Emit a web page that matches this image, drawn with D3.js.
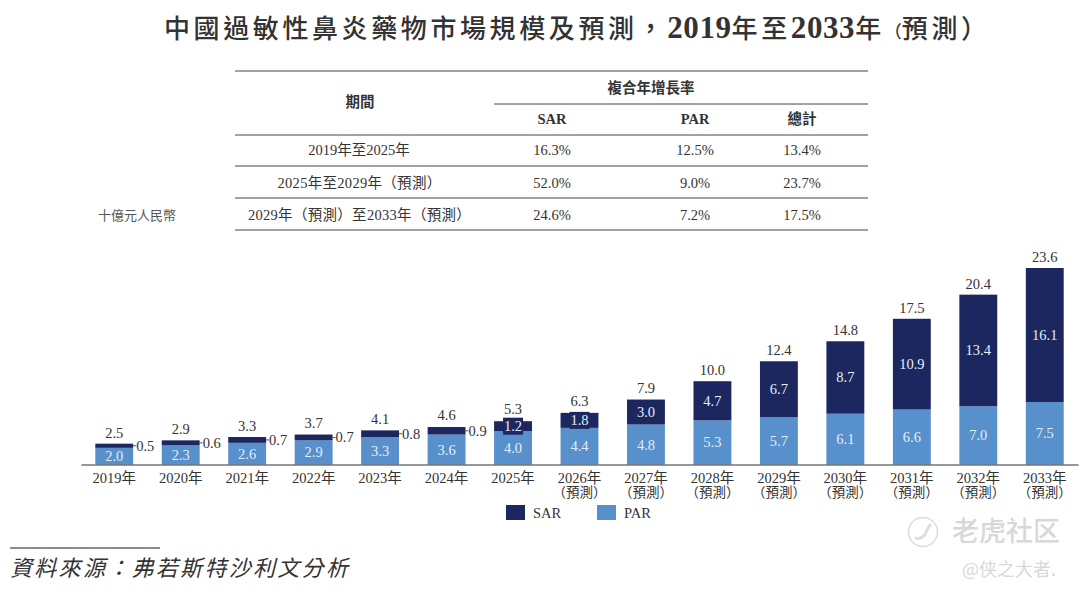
<!DOCTYPE html>
<html>
<head>
<meta charset="utf-8">
<script src="https://cdn.jsdelivr.net/npm/d3@7"></script>
<style>
  body { margin: 0; background: #fff; }
  text { font-family: "Liberation Serif", "Noto Sans CJK TC", serif; fill: #333; }
</style>
</head>
<body>
<svg width="1080" height="594"></svg>
<script>
var years = ["2019年", "2020年", "2021年", "2022年", "2023年", "2024年", "2025年", "2026年", "2027年", "2028年", "2029年", "2030年", "2031年", "2032年", "2033年"];
var forecastFrom = "2026年";
var sar = [0.5, 0.6, 0.7, 0.7, 0.8, 0.9, 1.2, 1.8, 3.0, 4.7, 6.7, 8.7, 10.9, 13.4, 16.1];
var par = [2.0, 2.3, 2.6, 2.9, 3.3, 3.6, 4.0, 4.4, 4.8, 5.3, 5.7, 6.1, 6.6, 7.0, 7.5];
var totals = [2.5, 2.9, 3.3, 3.7, 4.1, 4.6, 5.3, 6.3, 7.9, 10.0, 12.4, 14.8, 17.5, 20.4, 23.6];

var periods = ["2019年至2025年", "2025年至2029年（預測）", "2029年（預測）至2033年（預測）"];
var cagrSar = ["16.3%", "52.0%", "24.6%"];
var cagrPar = ["12.5%", "9.0%", "7.2%"];
var cagrTotal = ["13.4%", "23.7%", "17.5%"];

var navy = "#1c2760";
var blue = "#5790cb";
var svg = d3.select("svg");

// title, digits are bold serif, the rest sans
// the opening bracket is set small so the bracket pair stays tight
var titleText = "中國過敏性鼻炎藥物市場規模及預測，2019年至2033年（預測）";
var title = svg.append("text")
  .attr("x", 164).attr("y", 38)
  .attr("font-size", 26);
title.selectAll("tspan")
  .data(titleText.match(/\d+|（|[^\d（]+/g))
  .enter().append("tspan")
  .attr("font-weight", (d) => (/\d/.test(d) ? 700 : 500))
  .attr("font-size", (d) => (/\d/.test(d) ? 31 : d == "（" ? 17 : 26))
  .attr("letter-spacing", (d) => (/\d/.test(d) ? 0.6 : d == "（" ? 0 : 3.6))
  .text((d) => d);

// CAGR table
var rowLines = [71, 135, 166, 198, 230];
svg.selectAll(".rule")
  .data(rowLines)
  .enter().append("line")
  .classed("rule", true)
  .attr("x1", 235).attr("x2", 868)
  .attr("y1", (d) => d).attr("y2", (d) => d)
  .attr("stroke", "#444").attr("stroke-width", 1);
svg.append("line")
  .attr("x1", 494).attr("x2", 868)
  .attr("y1", 104).attr("y2", 104)
  .attr("stroke", "#444").attr("stroke-width", 1);

function cell(x, y, s, bold, spacing) {
  svg.append("text")
    .attr("x", x).attr("y", y)
    .attr("text-anchor", "middle")
    .attr("dominant-baseline", "central")
    .attr("font-size", 14.5)
    .attr("font-weight", bold ? 700 : 400)
    .attr("letter-spacing", spacing || 0)
    .text(s);
}
cell(360, 102, "期間", true);
cell(651, 88, "複合年增長率", true);
cell(552, 119, "SAR", true);
cell(695, 119, "PAR", true);
cell(802, 119, "總計", true);
periods.forEach(function (p, i) {
  var y = [150, 183, 215][i];
  cell([359, 359.5, 359.5][i], y, p, false, [0, 0.3, 0.3][i]);
  cell(552, y, cagrSar[i], false);
  cell(695, y, cagrPar[i], false);
  cell(802, y, cagrTotal[i], false);
});

svg.append("text")
  .attr("x", 98).attr("y", 215)
  .attr("dominant-baseline", "central")
  .attr("font-size", 13)
  .style("fill", "#555")
  .text("十億元人民幣");

// bars
var x = d3.scaleBand().domain(years).range([81, 1078]).paddingInner(0.43).paddingOuter(0.215);
var y = d3.scaleLinear().domain([0, 23.6]).range([464.5, 268]);

var rows = years.map((d, i) => ({ year: d, PAR: par[i], SAR: sar[i] }));
var series = d3.stack().keys(["PAR", "SAR"])(rows);
var colors = { PAR: blue, SAR: navy };

svg.selectAll(".layer")
  .data(series)
  .enter().append("g")
  .classed("layer", true)
  .attr("fill", (d) => colors[d.key])
  .selectAll("rect")
  .data((d) => d)
  .enter().append("rect")
  .attr("x", (d) => x(d.data.year))
  .attr("width", x.bandwidth())
  .attr("y", (d) => y(d[1]))
  .attr("height", (d) => y(d[0]) - y(d[1]));

// axis
var axis = d3.axisBottom(x).tickSize(0).tickPadding(8);
var ax = svg.append("g").attr("transform", "translate(0,464.5)").call(axis);
ax.select(".domain").attr("stroke", "#333").attr("stroke-width", 1.2);
ax.selectAll("text")
  .attr("font-size", 14.5)
  .attr("font-family", '"Liberation Serif", "Noto Sans CJK TC", serif')
  .attr("fill", "#333");
ax.selectAll(".tick")
  .filter((d) => years.indexOf(d) >= years.indexOf(forecastFrom))
  .append("text")
  .attr("y", 22.5)
  .attr("dy", "0.71em")
  .attr("font-size", 13.5)
  .attr("font-family", '"Liberation Serif", "Noto Sans CJK TC", serif')
  .attr("fill", "#333")
  .text("（預測）");

// value labels
var cx = (d) => x(d) + x.bandwidth() / 2;
svg.selectAll(".total")
  .data(years)
  .enter().append("text")
  .classed("total", true)
  .attr("x", cx)
  .attr("y", (d, i) => y(totals[i]) - 6)
  .attr("text-anchor", "middle")
  .attr("font-size", 14.5)
  .text((d, i) => totals[i].toFixed(1));

svg.selectAll(".parlabel")
  .data(years)
  .enter().append("text")
  .classed("parlabel", true)
  .attr("x", cx)
  .attr("y", (d, i) => y(par[i] / 2))
  .attr("dominant-baseline", "central")
  .attr("text-anchor", "middle")
  .attr("font-size", 14.5)
  .style("fill", "#e4edf7")
  .text((d, i) => par[i].toFixed(1));

// small SAR values sit outside the bar with a short leader
var outside = (v) => v < 1;
// labels taller than their segment get a navy box behind them
var boxed = (v) => !outside(v) && y(0) - y(v) < 17;
svg.selectAll(".sarbox")
  .data(years.filter((d, i) => boxed(sar[i])))
  .enter().append("rect")
  .classed("sarbox", true)
  .attr("x", (d) => cx(d) - 10)
  .attr("width", 20)
  .attr("y", (d) => y(par[years.indexOf(d)] + sar[years.indexOf(d)] / 2) - 8.5)
  .attr("height", 17)
  .attr("fill", navy);
svg.selectAll(".sarlabel")
  .data(years)
  .enter().append("text")
  .classed("sarlabel", true)
  .attr("x", (d, i) => (outside(sar[i]) ? x(d) + x.bandwidth() + 3 : cx(d)))
  .attr("y", (d, i) => y(par[i] + sar[i] / 2))
  .attr("dominant-baseline", "central")
  .attr("text-anchor", (d, i) => (outside(sar[i]) ? "start" : "middle"))
  .attr("font-size", 14.5)
  .style("fill", (d, i) => (outside(sar[i]) ? "#333" : "#e4edf7"))
  .text((d, i) => sar[i].toFixed(1));
svg.selectAll(".leader")
  .data(years.filter((d, i) => outside(sar[i])))
  .enter().append("line")
  .classed("leader", true)
  .attr("x1", (d) => x(d) + x.bandwidth())
  .attr("x2", (d) => x(d) + x.bandwidth() + 3)
  .attr("y1", (d) => y(par[years.indexOf(d)] + sar[years.indexOf(d)] / 2))
  .attr("y2", (d) => y(par[years.indexOf(d)] + sar[years.indexOf(d)] / 2))
  .attr("stroke", "#555");

// legend
var legend = svg.selectAll(".legend")
  .data(["SAR", "PAR"])
  .enter().append("g")
  .classed("legend", true)
  .attr("transform", (d, i) => `translate(${506 + i * 91},505)`);
legend.append("rect")
  .attr("width", 19).attr("height", 15)
  .attr("fill", (d) => colors[d]);
legend.append("text")
  .attr("x", 27).attr("y", 7.5)
  .attr("dominant-baseline", "central")
  .attr("font-size", 14.5)
  .text((d) => d);

// source
svg.append("line")
  .attr("x1", 10).attr("x2", 160)
  .attr("y1", 548).attr("y2", 548)
  .attr("stroke", "#666").attr("stroke-width", 1.5);
svg.append("text")
  .attr("x", 10).attr("y", 576)
  .attr("font-size", 22)
  .attr("letter-spacing", 2.3)
  .attr("font-style", "italic")
  .text("資料來源：弗若斯特沙利文分析");

// watermark
svg.append("circle")
  .attr("cx", 923).attr("cy", 532).attr("r", 14.5)
  .attr("fill", "none").attr("stroke", "#ddd").attr("stroke-width", 1.5);
svg.append("path")
  .attr("d", "M915,538 q8,2 11,-6 q3,-6 5,-8")
  .attr("fill", "none").attr("stroke", "#ddd").attr("stroke-width", 3);
svg.append("text")
  .attr("x", 952).attr("y", 541)
  .attr("font-size", 27)
  .attr("font-weight", 500)
  .style("font-family", '"Noto Sans CJK SC"')
  .style("fill", "#d8d8d8")
  .text("老虎社区");
svg.append("text")
  .attr("x", 962).attr("y", 576)
  .attr("font-size", 18)
  .style("font-family", '"Noto Sans CJK SC"')
  .style("fill", "#d8d8d8")
  .text("@侠之大者.");
</script>
</body>
</html>
